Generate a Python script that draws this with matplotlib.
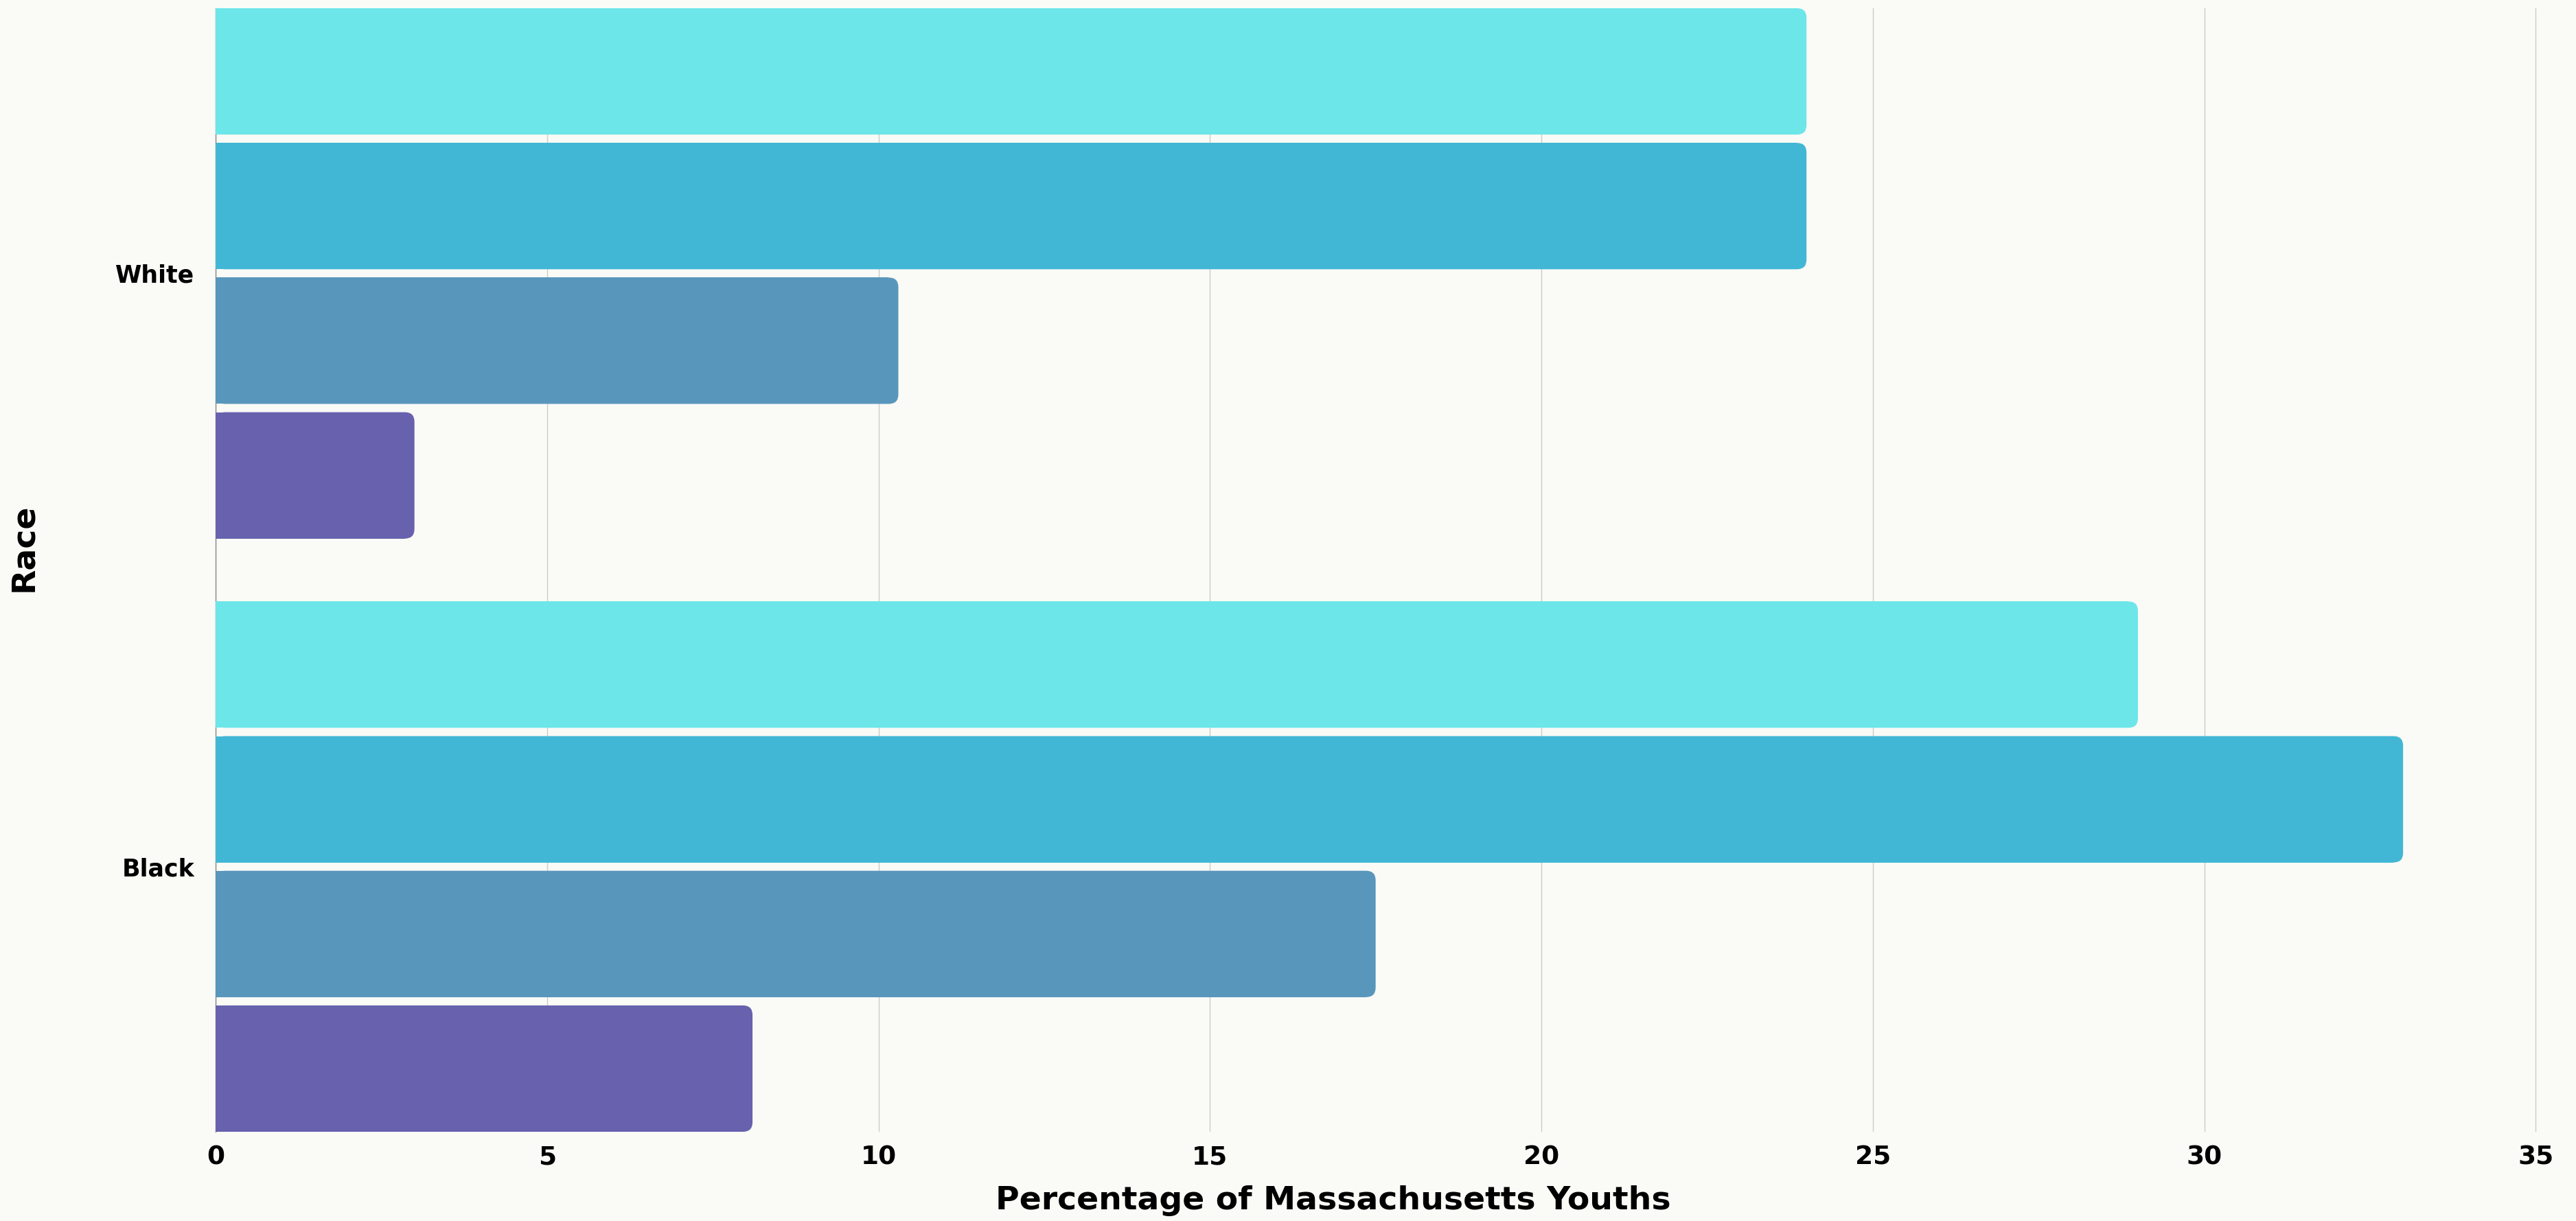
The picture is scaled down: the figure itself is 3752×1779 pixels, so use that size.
import matplotlib
matplotlib.use("Agg")
import matplotlib.pyplot as plt
from matplotlib.patches import FancyBboxPatch
import numpy as np

# data
races = ["White", "Black"]
series_a = [24.0, 29.0]
series_b = [24.0, 33.0]
series_c = [10.3, 17.5]
series_d = [3.0, 8.1]
series = [series_a, series_b, series_c, series_d]
colors = ["#6CE6E8", "#42B7D5", "#5996BC", "#6761AE"]
x_ticks = [0, 5, 10, 15, 20, 25, 30, 35]

bg = "#FAFAF6"
plt.rcParams['font.family'] = ['DejaVu Sans']

W, H, DPI = 3752, 1779, 100
fig = plt.figure(figsize=(W / DPI, H / DPI), dpi=DPI, facecolor=bg)

# axes box in pixels
left_px, bottom_px, top_px = 314, 1649, 12
unit_px = 96.55
xmax = 35.2
ax = fig.add_axes([left_px / W, 1 - bottom_px / H,
                   xmax * unit_px / W, (bottom_px - top_px) / H])
ax.set_facecolor(bg)

slot = 0.227
height = 0.213
edge = 2 * slot - (slot - height) / 2
ax.set_xlim(0, xmax)
ax.set_ylim(len(races) - 1 + edge, -edge)

# rounding radius of the bar ends, in data units on each axis
radius_px = 14
px_y = (bottom_px - top_px) / (len(races) - 1 + 2 * edge)
rx = radius_px / unit_px
ry = radius_px / px_y

for j, vals in enumerate(series):
    for i, v in enumerate(vals):
        yc = i + (j - 1.5) * slot
        # square part on the left, rounded patch over the whole length
        ax.barh(yc, v - rx, height=height, color=colors[j], zorder=3)
        p = FancyBboxPatch((0, yc - height / 2), v, height,
                           boxstyle=f"round,pad=0,rounding_size={rx}",
                           mutation_aspect=ry / rx,
                           facecolor=colors[j], edgecolor="none", zorder=3)
        ax.add_patch(p)

ax.set_xticks(x_ticks)
ax.set_xticklabels([str(t) for t in x_ticks], fontsize=27, fontweight='bold')
ax.set_yticks(range(len(races)))
ax.set_yticklabels(races, fontsize=25, fontweight='bold')
ax.tick_params(axis='x', length=0, pad=14)
ax.tick_params(axis='y', length=0, pad=22)

ax.grid(True, axis='x', color='#CCCCCC', linewidth=1, zorder=0)
ax.set_axisbelow(True)
for s in ['top', 'right', 'bottom']:
    ax.spines[s].set_visible(False)
ax.spines['left'].set_color('#888888')
ax.spines['left'].set_linewidth(1)

ax.set_xlabel("Percentage of Massachusetts Youths", fontsize=34,
              fontweight='bold', labelpad=16, x=0.479)
ax.set_ylabel("Race", fontsize=34, fontweight='bold')
ax.yaxis.set_label_coords(-0.0756, 0.52)

fig.savefig("out.png", dpi=DPI, facecolor=bg)
